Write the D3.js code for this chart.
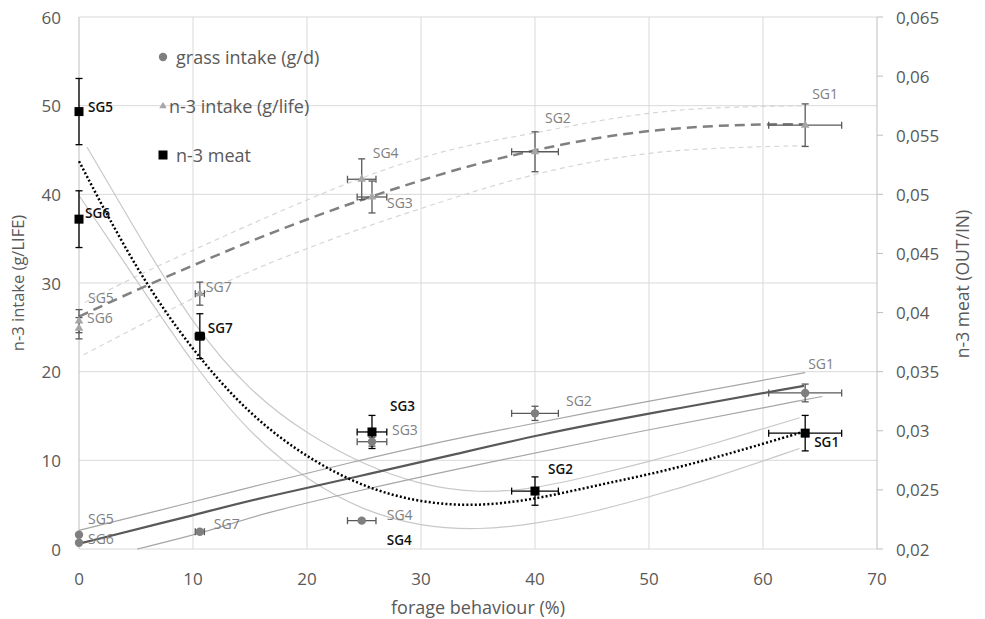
<!DOCTYPE html>
<html>
<head>
<meta charset="utf-8">
<script src="https://cdn.jsdelivr.net/npm/d3@7"></script>
<style>
  body { margin: 0; background: #fff; }
  svg { font-family: "Open Sans", "Noto Sans", sans-serif; }
</style>
</head>
<body>
<svg id="canvas" width="985" height="619"></svg>
<script>
// groups and measured values
let groups = ['SG1', 'SG2', 'SG3', 'SG4', 'SG5', 'SG6', 'SG7']
let forage = [63.7, 40.0, 25.7, 24.8, 0, 0, 10.6]
let forageErr = [3.2, 2.05, 1.3, 1.25, 0, 0, 0.4]
let grassIntake = [17.6, 15.3, 12.1, 3.2, 1.6, 0.7, 1.95]
let grassErr = [1.0, 0.8, 0.5, 0.2, 0, 0, 0.2]
let n3Intake = [47.8, 44.8, 39.7, 41.7, 25.7, 24.9, 28.8]
let n3IntakeErr = [2.4, 2.25, 1.8, 2.3, 1.3, 1.2, 1.3]
let n3Meat = [0.0298, 0.0249, 0.0299, null, 0.0570, 0.0479, 0.0380]
let n3MeatErr = [0.0015, 0.0012, 0.0014, null, 0.0028, 0.0024, 0.0019]

// fitted trends [forage %, value]
let grassFit = [[0, 0.6], [10, 3.8], [16, 5.8], [24.6, 8.2], [33.4, 10.8], [40, 12.8], [50, 15.3], [63.6, 18.4]]
let grassHi = [[0, 2.1], [10, 5.3], [16, 7.3], [24.6, 10.0], [33, 12.5], [50, 16.7], [63.7, 19.9]]
let grassLo = [[5.1, 0], [10.9, 1.8], [16, 4.0], [24.6, 6.6], [33, 9.0], [50, 13.5], [65.2, 17.2]]

let intakeFit = [[0, 26.2], [5, 29.2], [10, 32.0], [15, 34.7], [20, 37.2], [25, 39.5], [30, 41.6], [35, 43.5], [40, 45.0], [45, 46.3], [50, 47.2], [55, 47.7], [60, 47.9], [63.7, 47.9]]
let intakeHi = [[0.5, 27.8], [5, 30.8], [10, 33.7], [15, 36.6], [20, 39.4], [25, 42.0], [30, 44.2], [35, 45.8], [40, 46.9], [45, 48.2], [50, 49.2], [55, 49.8], [63.7, 50.0]]
let intakeLo = [[0.4, 21.9], [5, 25.0], [10, 28.3], [15, 31.4], [20, 33.9], [25, 36.3], [30, 38.4], [35, 40.5], [40, 42.3], [45, 43.7], [50, 44.7], [55, 45.2], [63.7, 45.5]]

let meatFit = [[0, 0.0528], [5, 0.0436], [10, 0.0367], [15, 0.0313], [20, 0.0277], [25, 0.0252], [30, 0.0239], [35, 0.0236], [40, 0.0242], [45, 0.0253], [50, 0.0263], [55, 0.0275], [60, 0.0289], [63.5, 0.0299]]
let meatHi = [[0.7, 0.0540], [5, 0.0469], [10, 0.0389], [15, 0.0333], [20, 0.0297], [25, 0.0271], [30, 0.0254], [35, 0.0247], [40, 0.0251], [45, 0.0262], [50, 0.0274], [55, 0.0287], [63.2, 0.0311]]
let meatLo = [[0, 0.0499], [5, 0.0428], [10, 0.0356], [15, 0.0297], [20, 0.0258], [25, 0.0232], [30, 0.0219], [35, 0.0216], [40, 0.0221], [45, 0.0231], [50, 0.0244], [55, 0.0258], [63.2, 0.0285]]

let xTicks = [0, 10, 20, 30, 40, 50, 60, 70]
let leftTicks = [0, 10, 20, 30, 40, 50, 60]
let rightTicks = [0.02, 0.025, 0.03, 0.035, 0.04, 0.045, 0.05, 0.055, 0.06, 0.065]

let legendItems = ['grass intake (g/d)', 'n-3 intake (g/life)', 'n-3 meat']

// label offsets (px) from each marker: [dx, dy]
let grassLabelOff = [[3, -29], [31, -13], [20, -12], [25, -6], [9, -16], [9, -4], [14, -8]]
let intakeLabelOff = [[7, -32], [10, -34], [15, 6], [11, -27], [9, -24], [8, -11], [6, -7]]
let meatLabelOff = [[9, 9], [13, -22], [18, -26], [25, -9], [9, -5], [6, -6], [8, -8]]

let canvas = d3.select('#canvas')

let x = d3.scaleLinear().domain([0, 70]).range([79, 877])
let yL = d3.scaleLinear().domain([0, 60]).range([549, 17])
let yR = d3.scaleLinear().domain([0.02, 0.065]).range([549, 17])

let grid = canvas.append('g')
grid.selectAll('.hgrid')
    .data(leftTicks)
    .enter()
    .append('line')
    .attr('x1', x(0)).attr('x2', x(70))
    .attr('y1', d => yL(d)).attr('y2', d => yL(d))
    .attr('stroke', '#d9d9d9').attr('stroke-width', 1)
grid.selectAll('.vgrid')
    .data(xTicks)
    .enter()
    .append('line')
    .attr('x1', d => x(d)).attr('x2', d => x(d))
    .attr('y1', yL(60)).attr('y2', yL(0))
    .attr('stroke', d => (d === 0 || d === 70) ? '#bfbfbf' : '#d9d9d9').attr('stroke-width', 1)

// right axis ticks
canvas.selectAll('.rtick')
    .data(rightTicks)
    .enter()
    .append('line')
    .attr('x1', x(70)).attr('x2', x(70) + 6)
    .attr('y1', d => yR(d)).attr('y2', d => yR(d))
    .attr('stroke', '#bfbfbf')

let tickFont = 17
canvas.selectAll('.xlab')
    .data(xTicks)
    .enter()
    .append('text')
    .attr('x', d => x(d)).attr('y', 578)
    .attr('text-anchor', 'middle').attr('dominant-baseline', 'central')
    .attr('font-size', tickFont).attr('fill', '#595959')
    .text(d => d)
canvas.selectAll('.llab')
    .data(leftTicks)
    .enter()
    .append('text')
    .attr('x', 61).attr('y', d => yL(d))
    .attr('text-anchor', 'end').attr('dominant-baseline', 'central')
    .attr('font-size', tickFont).attr('fill', '#595959')
    .text(d => d)
canvas.selectAll('.rlab')
    .data(rightTicks)
    .enter()
    .append('text')
    .attr('x', 896).attr('y', d => yR(d))
    .attr('dominant-baseline', 'central')
    .attr('font-size', tickFont).attr('fill', '#595959')
    .text(d => String(+d.toFixed(3)).replace('.', ','))

canvas.append('text')
    .attr('x', 478).attr('y', 607)
    .attr('text-anchor', 'middle').attr('dominant-baseline', 'central')
    .attr('font-size', 18).attr('fill', '#595959')
    .text('forage behaviour (%)')
canvas.append('text')
    .attr('transform', 'translate(17,283) rotate(-90)')
    .attr('text-anchor', 'middle').attr('dominant-baseline', 'central')
    .attr('font-size', 16.5).attr('fill', '#595959')
    .text('n-3 intake (g/LIFE)')
canvas.append('text')
    .attr('transform', 'translate(962,284) rotate(-90)')
    .attr('text-anchor', 'middle').attr('dominant-baseline', 'central')
    .attr('font-size', 17.5).attr('fill', '#595959')
    .text('n-3 meat (OUT/IN)')

// trend lines
let lineL = d3.line().x(d => x(d[0])).y(d => yL(d[1])).curve(d3.curveBasis)
let lineR = d3.line().x(d => x(d[0])).y(d => yR(d[1])).curve(d3.curveBasis)

let drawLine = (pts, gen, color, width, dash) => {
    canvas.append('path')
        .attr('d', gen(pts))
        .attr('fill', 'none')
        .attr('stroke', color)
        .attr('stroke-width', width)
        .attr('stroke-dasharray', dash)
}

drawLine(intakeHi, lineL, '#d6d6d6', 1.2, '5,4')
drawLine(intakeLo, lineL, '#d6d6d6', 1.2, '5,4')
drawLine(meatHi, lineR, '#c8c8c8', 1.2, null)
drawLine(meatLo, lineR, '#c8c8c8', 1.2, null)
drawLine(grassHi, lineL, '#a6a6a6', 1.2, null)
drawLine(grassLo, lineL, '#a6a6a6', 1.2, null)
drawLine(grassFit, lineL, '#595959', 2.2, null)
drawLine(intakeFit, lineL, '#808080', 2.5, '10,6')
drawLine(meatFit, lineR, '#000', 2.5, '2,2.2')

// error bars
let drawErr = (vals, errs, yScale, color) => {
    let g = canvas.append('g').attr('stroke', color).attr('stroke-width', 1.3)
    groups.forEach((name, i) => {
        if (vals[i] === null) return
        let cx = x(forage[i])
        let cy = yScale(vals[i])
        if (errs[i] > 0) {
            let y1 = yScale(vals[i] + errs[i])
            let y2 = yScale(vals[i] - errs[i])
            g.append('line').attr('x1', cx).attr('x2', cx).attr('y1', y1).attr('y2', y2)
            g.append('line').attr('x1', cx - 3.5).attr('x2', cx + 3.5).attr('y1', y1).attr('y2', y1)
            g.append('line').attr('x1', cx - 3.5).attr('x2', cx + 3.5).attr('y1', y2).attr('y2', y2)
        }
        if (forageErr[i] > 0) {
            let x1 = x(forage[i] - forageErr[i])
            let x2 = x(forage[i] + forageErr[i])
            g.append('line').attr('x1', x1).attr('x2', x2).attr('y1', cy).attr('y2', cy)
            g.append('line').attr('x1', x1).attr('x2', x1).attr('y1', cy - 3.5).attr('y2', cy + 3.5)
            g.append('line').attr('x1', x2).attr('x2', x2).attr('y1', cy - 3.5).attr('y2', cy + 3.5)
        }
    })
}

drawErr(n3Intake, n3IntakeErr, yL, '#595959')
drawErr(grassIntake, grassErr, yL, '#595959')
drawErr(n3Meat, n3MeatErr, yR, '#000')

// markers
let tri = d3.symbol().type(d3.symbolTriangle).size(32)
canvas.selectAll('.tri')
    .data(groups)
    .enter()
    .append('path')
    .attr('d', tri)
    .attr('transform', (d, i) => 'translate(' + x(forage[i]) + ',' + yL(n3Intake[i]) + ')')
    .attr('fill', '#a6a6a6')
canvas.selectAll('.dot')
    .data(groups)
    .enter()
    .append('circle')
    .attr('cx', (d, i) => x(forage[i]))
    .attr('cy', (d, i) => yL(grassIntake[i]))
    .attr('r', 4.2)
    .attr('fill', '#7f7f7f')
canvas.selectAll('.sq')
    .data(groups.filter((d, i) => n3Meat[i] !== null))
    .enter()
    .append('rect')
    .attr('x', d => x(forage[groups.indexOf(d)]) - 4.5)
    .attr('y', d => yR(n3Meat[groups.indexOf(d)]) - 4.5)
    .attr('width', 9).attr('height', 9)
    .attr('fill', '#000')

// data labels
let drawLabels = (vals, yScale, offs, color, weight, size) => {
    canvas.selectAll(null)
        .data(groups)
        .enter()
        .append('text')
        .attr('x', (d, i) => x(forage[i]) + offs[i][0])
        .attr('y', (d, i) => (vals[i] === null ? yScale.range()[0] : yScale(vals[i])) + offs[i][1])
        .attr('dominant-baseline', 'central')
        .attr('font-size', size)
        .attr('font-weight', weight)
        .attr('fill', color)
        .text(d => d)
}
drawLabels(grassIntake, yL, grassLabelOff, '#808080', 400, 14)
drawLabels(n3Intake, yL, intakeLabelOff, '#808080', 400, 14)
drawLabels(n3Meat, yR, meatLabelOff, '#111', 600, 13.5)

// legend
let legendX = [176, 169, 176]
let legend = canvas.append('g')
legend.selectAll('text')
    .data(legendItems)
    .enter()
    .append('text')
    .attr('x', (d, i) => legendX[i]).attr('y', (d, i) => 57 + i * 49)
    .attr('dominant-baseline', 'central')
    .attr('font-size', 18).attr('fill', '#595959')
    .text(d => d)
legend.append('circle').attr('cx', 163).attr('cy', 57).attr('r', 4.2).attr('fill', '#7f7f7f')
legend.append('path').attr('d', d3.symbol().type(d3.symbolTriangle).size(24)).attr('transform', 'translate(163,106)').attr('fill', '#a6a6a6')
legend.append('rect').attr('x', 158.5).attr('y', 150.5).attr('width', 9).attr('height', 9).attr('fill', '#000')
</script>
</body>
</html>
